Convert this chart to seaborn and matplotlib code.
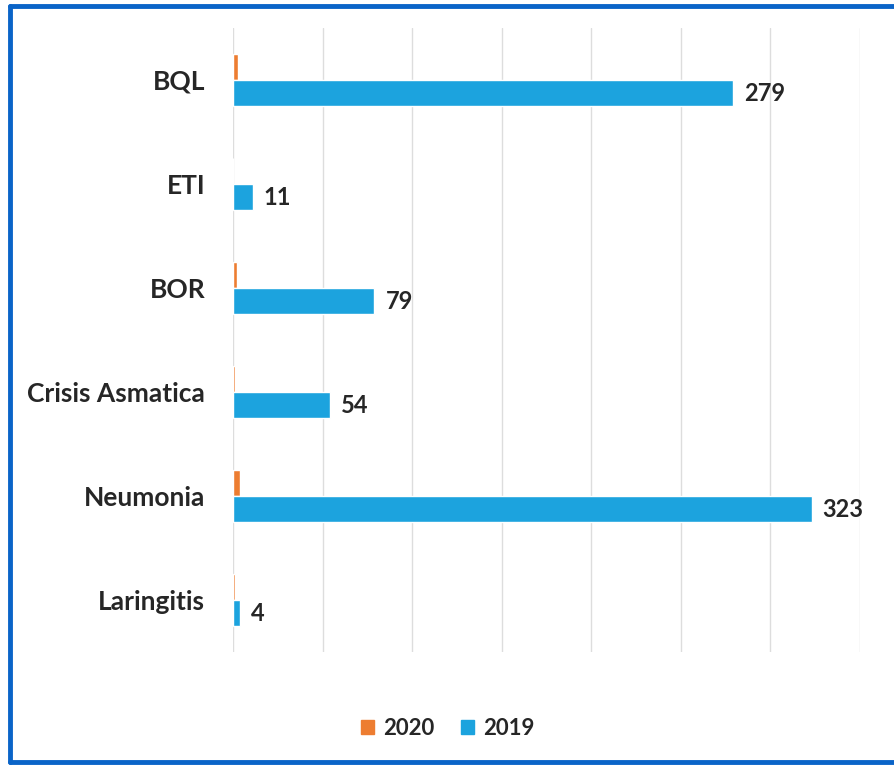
import matplotlib.pyplot as plt
import pandas as pd
import seaborn as sns
from matplotlib.lines import Line2D
from matplotlib.patches import Patch

# Data
categories = ['BQL', 'ETI', 'BOR', 'Crisis Asmatica', 'Neumonia', 'Laringitis']
values_2019 = [279, 11, 79, 54, 323, 4]
values_2020 = [3, 0, 2, 1, 4, 1]
years = ['2020', '2019']
colors = ['#ED7D31', '#1CA3DE']

df = pd.concat([
    pd.DataFrame({'cat': categories, 'value': values_2020, 'year': '2020'}),
    pd.DataFrame({'cat': categories, 'value': values_2019, 'year': '2019'}),
])

sns.set_style('white')
plt.rcParams['font.family'] = ['Lato', 'DejaVu Sans']

fig = plt.figure(figsize=(8.95, 7.65), dpi=100)
ax = fig.add_axes([0.2603, 0.1477, 0.7006, 0.8157])

sns.barplot(data=df, y='cat', x='value', hue='year', hue_order=years,
            order=categories, palette=colors, orient='h', width=0.5,
            gap=0, saturation=1, ax=ax, legend=False)

ax.set_xlim(0, 350)
ax.set_xticks(range(0, 351, 50))
ax.set_xticklabels([])
ax.tick_params(axis='x', length=0)
ax.tick_params(axis='y', length=0, pad=20)
ax.grid(axis='x', color='#DDDDDD', linewidth=1)
ax.set_axisbelow(True)
for s in ax.spines.values():
    s.set_visible(False)
ax.set_xlabel('')
ax.set_ylabel('')
for lab in ax.get_yticklabels():
    lab.set_fontsize(19)
    lab.set_fontweight('bold')

ax.bar_label(ax.containers[1], padding=8, fontsize=17, fontweight='bold')

handles = [Patch(color=c) for c in colors]
fig.legend(handles, years, loc='center', bbox_to_anchor=(0.5, 0.048), ncol=2,
           frameon=False, prop={'size': 16, 'weight': 'bold'},
           handlelength=0.6, handleheight=0.6, handletextpad=0.4, columnspacing=1.2)

# blue frame (left, top, bottom)
border = '#0A64C8'
fig.add_artist(Line2D([0.011, 0.011], [0.004, 0.992], color=border, lw=3.5))
fig.add_artist(Line2D([0.011, 1.0], [0.992, 0.992], color=border, lw=3.5))
fig.add_artist(Line2D([0.011, 1.0], [0.004, 0.004], color=border, lw=3.5))

fig.savefig('out.png', dpi=100)
